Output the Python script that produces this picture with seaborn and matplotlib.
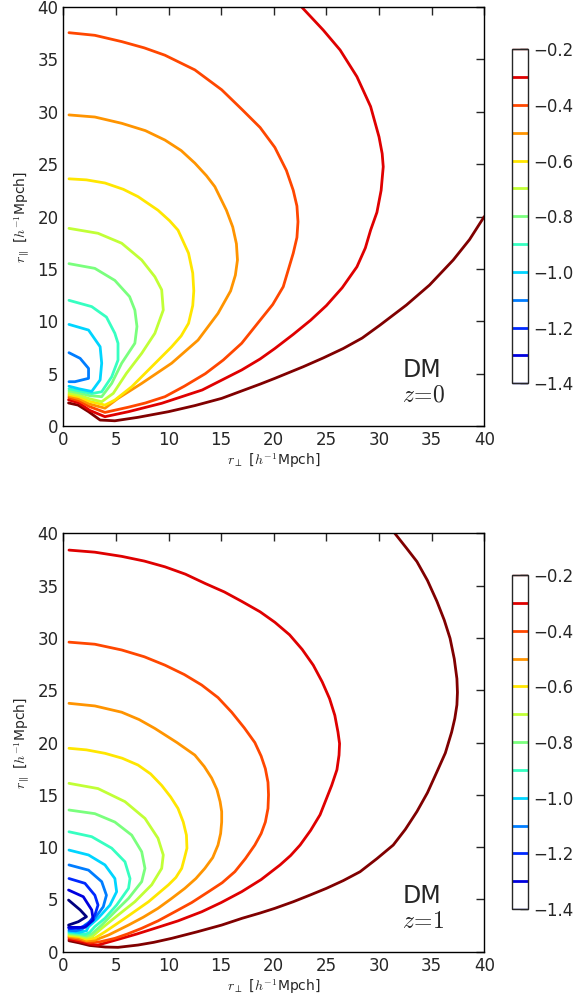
import matplotlib
matplotlib.use("Agg")
import matplotlib.pyplot as plt
import numpy as np
import pandas as pd
import seaborn as sns
from matplotlib.colors import ListedColormap, Normalize
from matplotlib.cm import ScalarMappable

levels = [-1.4, -1.3, -1.2, -1.1, -1.0, -0.9, -0.8, -0.7, -0.6, -0.5, -0.4, -0.3, -0.2]
cbar_ticks = [-1.4, -1.2, -1.0, -0.8, -0.6, -0.4, -0.2]
axis_ticks = [0, 5, 10, 15, 20, 25, 30, 35, 40]

# z = 0 contours, (r_perp, r_par) points
z0_m02 = [(0.5, 2.2), (1.4, 2.0), (2.4, 1.37), (3.5, 0.57), (4.9, 0.5), (7.1, 0.83), (10.0, 1.37),
          (12.5, 1.95), (15.05, 2.64), (18.7, 4.0), (20.1, 4.55), (22.8, 5.66), (24.7, 6.5),
          (26.6, 7.4), (28.4, 8.4), (30.1, 9.64), (32.6, 11.55), (34.8, 13.46), (37.05, 15.85),
          (38.6, 17.8), (40.0, 20.0)]
z0_m03 = [(0.5, 2.5), (1.5, 2.2), (2.5, 1.5), (3.96, 0.89), (6.2, 1.37), (9.35, 2.17), (13.2, 3.44),
          (16.95, 5.35), (18.7, 6.4), (20.1, 7.4), (21.85, 8.75), (23.5, 10.1), (25.0, 11.5),
          (26.5, 13.2), (27.9, 15.2), (28.7, 17.0), (29.2, 18.7), (29.8, 20.4), (30.2, 22.5),
          (30.4, 24.75), (30.3, 26.0), (30.0, 27.6), (29.2, 30.5), (27.9, 33.35), (26.3, 35.9),
          (24.7, 37.8), (22.65, 40.0)]
z0_m04 = [(0.54, 37.55), (3.0, 37.3), (5.55, 36.7), (7.7, 36.1), (9.66, 35.4), (12.5, 34.0),
          (15.05, 32.1), (17.0, 30.2), (18.7, 28.5), (20.1, 26.6), (21.2, 24.4), (21.85, 22.5),
          (22.2, 21.0), (22.3, 19.5), (22.2, 18.0), (21.85, 16.5), (20.9, 13.3), (19.9, 11.6),
          (18.7, 10.1), (16.95, 7.9), (15.2, 6.3), (13.5, 5.0), (11.5, 3.8), (9.66, 2.8), (7.8, 2.2),
          (6.2, 1.8), (3.96, 1.3), (2.5, 1.85), (1.5, 2.4), (0.54, 2.7)]
z0_m05 = [(0.54, 29.7), (3.0, 29.5), (5.55, 28.9), (7.8, 28.2), (9.66, 27.3), (11.2, 26.3),
          (12.5, 25.1), (13.6, 23.9), (14.4, 22.85), (15.5, 20.6), (16.1, 19.0), (16.45, 17.4),
          (16.55, 15.85), (16.35, 14.4), (15.9, 12.9), (14.7, 10.75), (12.8, 8.2), (10.3, 6.0),
          (7.45, 4.07), (5.2, 2.64), (3.96, 1.7), (2.5, 2.1), (1.5, 2.6), (0.54, 2.85)]
z0_m06 = [(0.54, 23.6), (2.2, 23.5), (3.96, 23.2), (5.7, 22.6), (7.1, 21.9), (9.0, 20.6),
          (10.1, 19.6), (10.9, 18.7), (11.9, 16.5), (12.3, 14.6), (12.4, 12.9), (12.3, 11.5),
          (11.9, 9.8), (11.2, 8.6), (10.3, 7.57), (8.4, 5.66), (6.5, 3.75), (4.9, 2.48), (3.96, 2.0),
          (2.5, 2.35), (1.5, 2.8), (0.54, 3.0)]
z0_m07 = [(0.54, 18.87), (3.3, 18.4), (5.55, 17.45), (7.45, 15.85), (8.7, 14.25), (9.35, 13.0),
          (9.5, 11.07), (8.7, 8.85), (7.45, 6.94), (6.0, 5.03), (4.75, 3.12), (3.65, 2.32),
          (2.5, 2.6), (1.5, 2.95), (0.54, 3.15)]
z0_m08 = [(0.54, 15.5), (3.0, 15.05), (4.9, 13.9), (6.3, 12.35), (6.8, 11.07), (7.0, 9.5),
          (6.8, 7.9), (5.55, 6.0), (4.6, 4.07), (3.65, 2.8), (2.5, 2.9), (1.5, 3.15), (0.54, 3.35)]
z0_m09 = [(0.54, 12.0), (2.7, 11.4), (4.1, 10.4), (4.9, 8.85), (5.2, 7.9), (5.2, 6.3), (4.6, 4.7),
          (3.65, 3.27), (2.7, 3.1), (1.5, 3.35), (0.54, 3.55)]
z0_m10 = [(0.54, 9.7), (2.4, 9.16), (3.5, 7.57), (3.65, 6.0), (3.5, 4.4), (2.7, 3.3), (1.5, 3.55),
          (0.54, 3.8)]
z0_m11 = [(0.54, 7.0), (1.6, 6.46), (2.4, 5.5), (2.4, 4.55), (1.1, 4.23), (0.54, 4.23)]

# z = 1 contours
z1_m02 = [(0.54, 1.05), (1.5, 0.85), (2.5, 0.6), (4.0, 0.45), (5.2, 0.42), (7.1, 0.64), (8.6, 0.9),
          (10.3, 1.28), (12.7, 1.9), (15.05, 2.55), (17.0, 3.2), (18.7, 3.7), (20.1, 4.15),
          (21.85, 4.78), (23.4, 5.4), (25.0, 6.06), (26.6, 6.8), (28.2, 7.65), (29.8, 8.9),
          (31.35, 10.2), (32.5, 11.7), (33.6, 13.4), (34.6, 15.2), (35.5, 17.2), (36.3, 19.0),
          (36.9, 21.0), (37.2, 22.3), (37.4, 23.6), (37.45, 24.8), (37.4, 26.1), (37.15, 28.0),
          (36.75, 29.96), (36.2, 31.7), (35.5, 33.5), (34.6, 35.5), (33.6, 37.3), (32.6, 38.6),
          (31.5, 40.0)]
z1_m03 = [(0.54, 38.4), (3.0, 38.2), (5.55, 37.8), (7.7, 37.35), (9.66, 36.8), (11.6, 36.1),
          (13.5, 35.2), (15.3, 34.4), (16.95, 33.5), (18.7, 32.5), (20.1, 31.5), (21.5, 30.3),
          (22.7, 28.9), (23.75, 27.4), (24.6, 25.8), (25.3, 24.2), (25.8, 22.6), (26.1, 21.0),
          (26.25, 19.9), (26.2, 18.8), (26.0, 17.4), (25.5, 15.9), (24.4, 13.1), (23.5, 11.6),
          (22.5, 10.2), (21.6, 9.2), (20.6, 8.3), (18.8, 6.9), (16.95, 5.74), (15.0, 4.7),
          (13.15, 3.82), (10.9, 2.95), (8.7, 2.24), (7.0, 1.7), (5.55, 1.28), (3.3, 0.64), (2.5, 0.75),
          (1.5, 1.0), (0.54, 1.2)]
z1_m04 = [(0.54, 29.6), (3.0, 29.4), (5.55, 28.85), (7.7, 28.2), (9.66, 27.4), (11.5, 26.5),
          (13.15, 25.5), (14.7, 24.3), (16.0, 22.9), (17.2, 21.4), (18.2, 20.0), (18.8, 18.7),
          (19.2, 17.5), (19.45, 16.2), (19.5, 15.0), (19.45, 13.7), (19.2, 12.4), (18.8, 11.3),
          (18.2, 10.2), (17.3, 8.9), (16.3, 7.65), (15.1, 6.6), (13.8, 5.74), (12.2, 4.7),
          (10.6, 3.82), (9.0, 2.95), (7.45, 2.24), (6.1, 1.7), (4.9, 1.28), (3.5, 0.95), (2.5, 0.9),
          (1.5, 1.15), (0.54, 1.35)]
z1_m05 = [(0.54, 23.75), (3.0, 23.5), (5.55, 22.9), (7.2, 22.2), (8.7, 21.35), (10.8, 20.0),
          (12.5, 18.8), (13.4, 17.7), (14.1, 16.6), (14.6, 15.5), (14.9, 14.35), (15.05, 13.4),
          (15.05, 12.4), (14.95, 11.3), (14.7, 10.2), (14.2, 9.0), (13.45, 7.97), (12.6, 7.0),
          (11.55, 6.06), (10.3, 5.1), (9.0, 4.15), (7.6, 3.3), (6.2, 2.55), (4.3, 1.6), (3.0, 1.1),
          (2.2, 1.05), (1.5, 1.3), (0.54, 1.45)]
z1_m06 = [(0.54, 19.45), (2.2, 19.3), (3.96, 18.97), (5.6, 18.5), (7.1, 17.85), (8.3, 17.0),
          (9.35, 15.9), (10.2, 14.8), (10.9, 13.7), (11.4, 12.4), (11.7, 11.15), (11.75, 9.9),
          (11.5, 8.9), (11.25, 7.97), (10.7, 7.1), (10.0, 6.4), (8.1, 4.78), (5.86, 3.2),
          (3.96, 1.9), (3.0, 1.3), (2.2, 1.2), (1.5, 1.45), (0.54, 1.55)]
z1_m07 = [(0.54, 16.1), (3.3, 15.6), (5.86, 14.35), (7.76, 12.75), (9.0, 10.85), (9.5, 9.25),
          (9.35, 7.97), (8.4, 6.4), (6.8, 4.78), (5.2, 3.5), (3.65, 2.24), (2.8, 1.5), (2.2, 1.35),
          (1.5, 1.55), (0.54, 1.65)]
z1_m08 = [(0.54, 13.55), (3.0, 13.2), (4.9, 12.4), (6.5, 11.15), (7.45, 9.56), (7.76, 7.97),
          (7.45, 6.7), (6.2, 5.1), (4.9, 3.82), (3.65, 2.55), (2.7, 1.7), (2.2, 1.5), (1.5, 1.65),
          (0.54, 1.75)]
z1_m09 = [(0.54, 11.47), (2.7, 11.0), (4.6, 9.9), (5.86, 8.6), (6.34, 7.0), (6.2, 6.06), (5.07, 4.46),
          (3.96, 3.2), (3.0, 2.4), (2.5, 1.85), (2.1, 1.65), (1.5, 1.75), (0.54, 1.85)]
z1_m10 = [(0.54, 9.72), (2.4, 9.25), (3.96, 8.3), (4.9, 7.0), (5.07, 5.74), (4.44, 4.46), (3.3, 3.2),
          (2.4, 2.4), (2.2, 2.0), (1.5, 1.85), (0.54, 1.95)]
z1_m11 = [(0.54, 8.3), (2.4, 7.8), (3.65, 6.7), (4.1, 5.4), (3.8, 4.3), (3.0, 3.2), (2.06, 2.55),
          (1.8, 2.15), (1.2, 2.0), (0.54, 2.05)]
z1_m12 = [(0.54, 7.0), (2.06, 6.54), (3.0, 5.4), (3.3, 4.46), (3.0, 3.5), (2.3, 2.6), (1.5, 2.25),
          (0.54, 2.2)]
z1_m13 = [(0.5, 5.9), (1.9, 5.26), (2.7, 4.0), (2.85, 3.03), (2.06, 2.33), (0.5, 2.33)]
z1_m14 = [(0.5, 4.94), (1.6, 4.0), (2.2, 3.35), (1.43, 2.87), (0.5, 2.55)]

z0_contours = {-0.2: z0_m02, -0.3: z0_m03, -0.4: z0_m04, -0.5: z0_m05, -0.6: z0_m06, -0.7: z0_m07,
               -0.8: z0_m08, -0.9: z0_m09, -1.0: z0_m10, -1.1: z0_m11}
z1_contours = {-0.2: z1_m02, -0.3: z1_m03, -0.4: z1_m04, -0.5: z1_m05, -0.6: z1_m06, -0.7: z1_m07,
               -0.8: z1_m08, -0.9: z1_m09, -1.0: z1_m10, -1.1: z1_m11, -1.2: z1_m12, -1.3: z1_m13,
               -1.4: z1_m14}

sns.set_style("white")
plt.rcParams["font.family"] = ["DejaVu Sans"]

jet = plt.get_cmap("jet")
norm = Normalize(vmin=-1.4, vmax=-0.2)

fig = plt.figure(figsize=(5.79, 10.05), dpi=100)

panels = [
    ([0.1093, 0.5761, 0.7271, 0.4169], [0.8837, 0.6186, 0.0287, 0.3323], z0_contours, "$z\\!=\\!0$"),
    ([0.1093, 0.0530, 0.7271, 0.4163], [0.8837, 0.0955, 0.0287, 0.3323], z1_contours, "$z\\!=\\!1$"),
]

for axrect, cbrect, contours, zlabel in panels:
    ax = fig.add_axes(axrect)
    for lev, pts in contours.items():
        df = pd.DataFrame(pts, columns=["rperp", "rpar"])
        sns.lineplot(data=df, x="rperp", y="rpar", sort=False, estimator=None,
                     color=jet(norm(lev)), lw=2, ax=ax)
    ax.set_xlim(0, 40)
    ax.set_ylim(0, 40)
    ax.set_xticks(axis_ticks)
    ax.set_yticks(axis_ticks)
    ax.tick_params(direction="in", top=True, right=True, length=6, width=1, labelsize=12)
    for sp in ax.spines.values():
        sp.set_linewidth(1)
        sp.set_color("black")
    ax.set_xlabel(r"$r_\perp$ [$h^{-1}$Mpch]", fontsize=10, math_fontfamily="cm", labelpad=2)
    ax.set_ylabel(r"$r_\parallel$ [$h^{-1}$Mpch]", fontsize=10, math_fontfamily="cm", labelpad=4)
    ax.text(32.2, 4.7, "DM", fontsize=17)
    ax.text(32.2, 2.3, zlabel, fontsize=17, math_fontfamily="cm")

    cax = fig.add_axes(cbrect)
    sm = ScalarMappable(norm=norm, cmap=ListedColormap(["white"]))
    cb = fig.colorbar(sm, cax=cax, ticks=cbar_ticks)
    inner = levels[1:-1]
    cb.add_lines(inner, [jet(norm(l)) for l in inner], [2] * len(inner))
    cb.add_lines([levels[0], levels[-1]], [jet(norm(levels[0])), jet(norm(levels[-1]))], [1, 1],
                 erase=False)
    cb.ax.tick_params(direction="in", length=6, width=1, labelsize=12)
    cb.outline.set_linewidth(1)

fig.savefig("out.png", dpi=100)
